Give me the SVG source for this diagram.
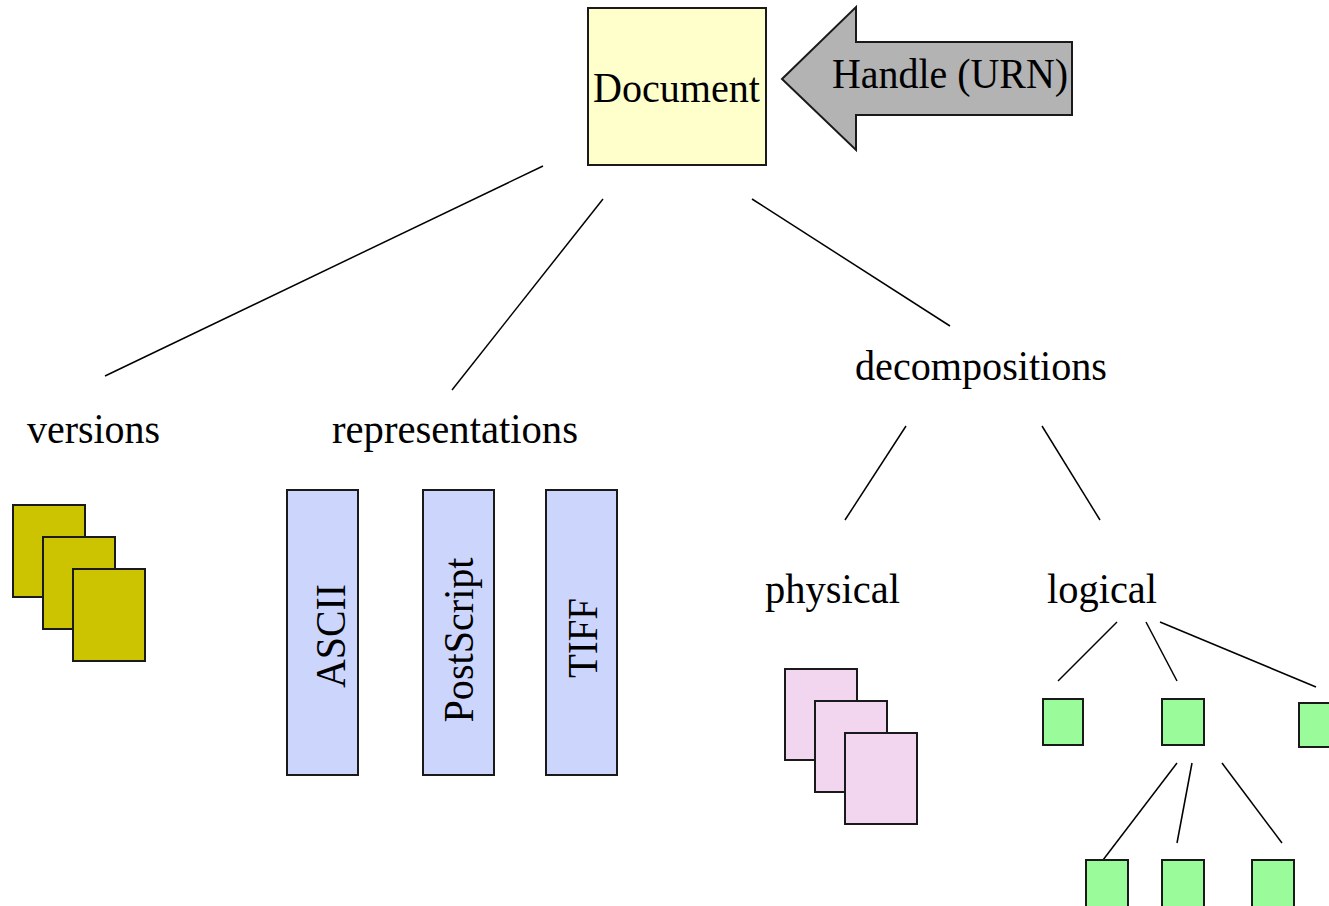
<svg xmlns="http://www.w3.org/2000/svg" width="1329" height="906" viewBox="0 0 1329 906">
<style>
text{font-family:"Liberation Serif","Times New Roman",serif;font-size:42px;fill:#000}
.box{stroke:#1a1a1a;stroke-width:2}
.doc{fill:#FFFFCC}
.ver{fill:#CCC400}
.rep{fill:#CCD5FC}
.phy{fill:#F2D6F0}
.log{fill:#99FB99}
.conn line{stroke:#000;stroke-width:1.5}
</style>
<rect width="1329" height="906" fill="#fff"/>
<g id="connectors" class="conn">
<line x1="543" y1="166" x2="105" y2="376"/>
<line x1="603" y1="199" x2="452" y2="390"/>
<line x1="752" y1="199" x2="950" y2="326"/>
<line x1="906" y1="426" x2="845" y2="520"/>
<line x1="1042" y1="426" x2="1100" y2="520"/>
<line x1="1117" y1="622" x2="1058" y2="681"/>
<line x1="1146" y1="622" x2="1177" y2="681"/>
<line x1="1160" y1="622" x2="1316" y2="687"/>
<line x1="1177" y1="763" x2="1103" y2="860"/>
<line x1="1192" y1="763" x2="1177" y2="843"/>
<line x1="1222" y1="763" x2="1282" y2="843"/>
</g>
<g id="document">
<rect class="box doc" x="588" y="8" width="178" height="157"/>
<text x="593" y="102" textLength="167" lengthAdjust="spacingAndGlyphs">Document</text>
</g>
<g id="handle">
<polygon class="box" fill="#B3B3B3" points="782,79 856,7 856,42 1072,42 1072,115 856,115 856,150"/>
<text x="832" y="88" textLength="236" lengthAdjust="spacingAndGlyphs">Handle (URN)</text>
</g>
<g id="versions">
<text x="27" y="443" textLength="133" lengthAdjust="spacingAndGlyphs">versions</text>
<rect class="box ver" x="13" y="505" width="72" height="92"/>
<rect class="box ver" x="43" y="537" width="72" height="92"/>
<rect class="box ver" x="73" y="569" width="72" height="92"/>
</g>
<g id="representations">
<text x="332" y="443" textLength="246" lengthAdjust="spacingAndGlyphs">representations</text>
</g>
<g id="ascii">
<rect class="box rep" x="287" y="490" width="71" height="285"/>
<text transform="translate(345,636) rotate(-90)" text-anchor="middle" textLength="104" lengthAdjust="spacingAndGlyphs">ASCII</text>
</g>
<g id="postscript">
<rect class="box rep" x="423" y="490" width="71" height="285"/>
<text transform="translate(473,640) rotate(-90)" text-anchor="middle" textLength="165" lengthAdjust="spacingAndGlyphs">PostScript</text>
</g>
<g id="tiff">
<rect class="box rep" x="546" y="490" width="71" height="285"/>
<text transform="translate(597,638) rotate(-90)" text-anchor="middle" textLength="80" lengthAdjust="spacingAndGlyphs">TIFF</text>
</g>
<g id="decompositions">
<text x="855" y="380" textLength="252" lengthAdjust="spacingAndGlyphs">decompositions</text>
</g>
<g id="physical">
<text x="765" y="603" textLength="135" lengthAdjust="spacingAndGlyphs">physical</text>
<rect class="box phy" x="785" y="669" width="72" height="91"/>
<rect class="box phy" x="815" y="701" width="72" height="91"/>
<rect class="box phy" x="845" y="733" width="72" height="91"/>
</g>
<g id="logical">
<text x="1047" y="603" textLength="110" lengthAdjust="spacingAndGlyphs">logical</text>
</g>
<g id="leaf1"><rect class="box log" x="1043" y="699" width="40" height="46"/></g>
<g id="leaf2"><rect class="box log" x="1162" y="699" width="42" height="46"/></g>
<g id="leaf3"><rect class="box log" x="1299" y="703" width="42" height="44"/></g>
<g id="leaf4"><rect class="box log" x="1086" y="860" width="42" height="48"/></g>
<g id="leaf5"><rect class="box log" x="1162" y="860" width="42" height="48"/></g>
<g id="leaf6"><rect class="box log" x="1252" y="860" width="42" height="48"/></g>
</svg>
